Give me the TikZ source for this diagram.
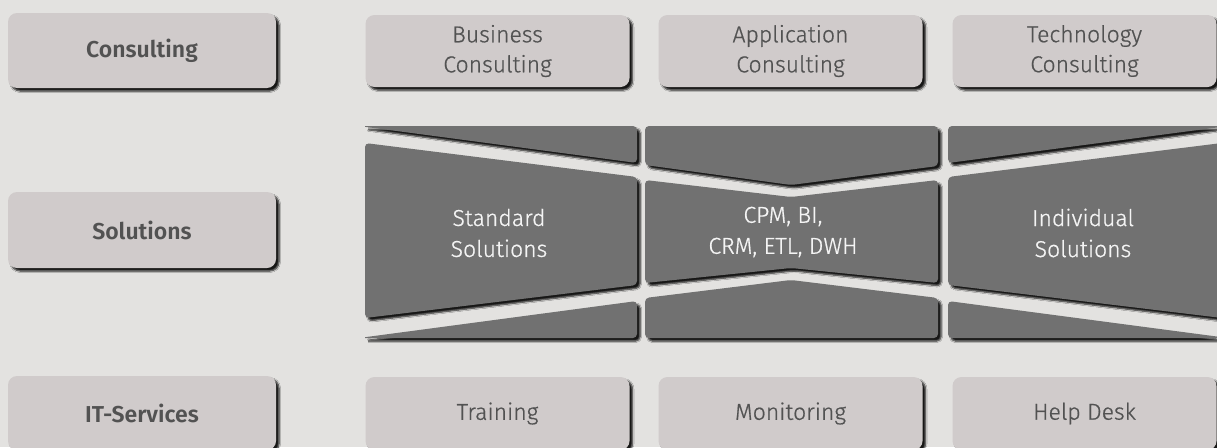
\documentclass[tikz,border=0pt]{standalone}
\usepackage{fontspec}
\setmainfont{Fira Sans}[UprightFont={* Light}, UprightFeatures={FakeBold=0.7}, BoldFont={* SemiBold}]
\usetikzlibrary{shadows.blur}
\definecolor{bgc}{HTML}{E3E2E0}
\definecolor{boxc}{HTML}{D0CBCB}
\definecolor{darkc}{HTML}{717171}
\definecolor{txtc}{HTML}{525252}
\definecolor{wtxt}{HTML}{F4F4F4}
\tikzset{
  myshadow/.style={blur shadow={shadow xshift=3pt, shadow yshift=-3pt, shadow blur radius=1.5pt, shadow blur steps=6, shadow opacity=90}},
  lbox/.style={rounded corners=9pt, fill=boxc, inner sep=0pt, text=txtc, align=center, font=\fontsize{23}{30}\selectfont, myshadow},
  dpiece/.style={fill=darkc, rounded corners=4pt, myshadow},
  dtext/.style={text=wtxt, align=center, inner sep=0pt, font=\fontsize{23}{31}\selectfont}
}
\begin{document}
\begin{tikzpicture}[x=1pt,y=-1pt]
\useasboundingbox (0,0) rectangle (1217,447);
\fill[bgc] (0,0) rectangle (1217,447);
% left labels
\node[lbox, minimum width=268pt, minimum height=75pt] (consulting) at (142,50.5) {\bfseries Consulting};
\node[lbox, minimum width=268pt, minimum height=76pt] (solutions) at (142,230) {\bfseries Solutions};
\node[lbox, minimum width=268pt, minimum height=74pt] (itservices) at (142,413) {\bfseries IT-Services};
% top row
\node[lbox, minimum width=264pt, minimum height=72pt] (business) at (497.5,51) {Business\\Consulting};
\node[lbox, minimum width=264pt, minimum height=72pt] (application) at (790.5,51) {Application\\Consulting};
\node[lbox, minimum width=264pt, minimum height=72pt] (technology) at (1084.5,51) {Technology\\Consulting};
% bottom row
\node[lbox, minimum width=264pt, minimum height=73pt] (training) at (497.5,413.5) {Training};
\node[lbox, minimum width=264pt, minimum height=73pt] (monitoring) at (790.5,413.5) {Monitoring};
\node[lbox, minimum width=264pt, minimum height=73pt] (helpdesk) at (1084.5,413.5) {Help Desk};
% left column pieces
\fill[dpiece] (365,126) -- (637,126) -- (637,163) -- (365,126.8);
\fill[dpiece] (365,143) -- (637,177) -- (637,285) -- (365,318) -- cycle;
\fill[dpiece] (365,338) -- (637,338) -- (637,301) -- (365,337.2);
% middle column pieces
\fill[dpiece] (645,126) -- (938,126) -- (938,166) -- (791,185) -- (645,165) -- cycle;
\fill[dpiece] (645,180) -- (791,197) -- (938,180) -- (938,283) -- (791,268) -- (645,283) -- cycle;
\fill[dpiece] (645,298) -- (791,280) -- (938,298) -- (938,338) -- (645,338) -- cycle;
% right column pieces
\fill[dpiece] (1222,126) -- (948,126) -- (948,163) -- (1222,126.8);
\fill[dpiece] (948,177) -- (1222,143) -- (1222,318) -- (948,285) -- cycle;
\fill[dpiece] (1222,338) -- (948,338) -- (948,301) -- (1222,337.2);
% texts in dark pieces
\node[dtext] (standard) at (499,233) {Standard\\Solutions};
\node[dtext] (cpm) at (783,232) {CPM, BI,\\CRM, ETL, DWH};
\node[dtext] (individual) at (1083,233) {Individual\\Solutions};
\end{tikzpicture}
\end{document}
